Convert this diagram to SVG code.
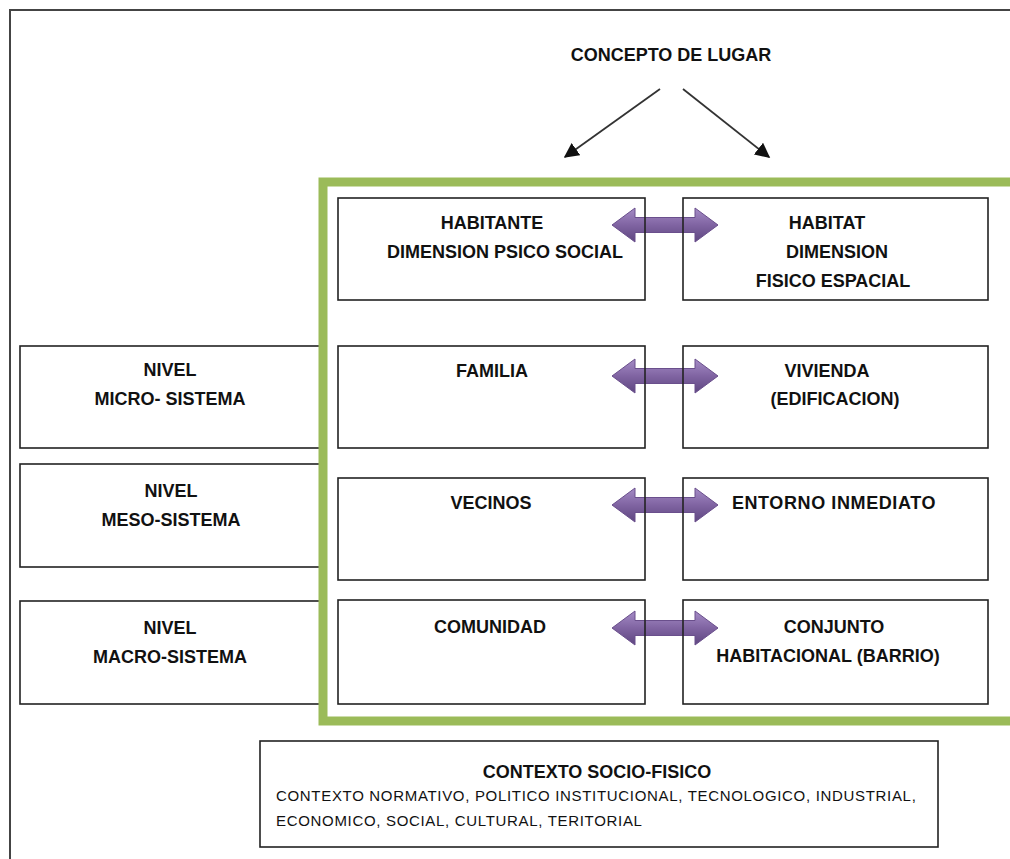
<svg xmlns="http://www.w3.org/2000/svg" width="1010" height="859" viewBox="0 0 1010 859">
<defs>
<style>
.box{fill:none;stroke:#222;stroke-width:1.6}
.t{font-family:"Liberation Sans",Arial,sans-serif;font-weight:bold;font-size:18px;fill:#111;text-anchor:middle}
.s{font-family:"Liberation Sans",Arial,sans-serif;font-size:15px;fill:#111;letter-spacing:0.68px}
.dbl{fill:url(#pg);stroke:#6a4f8c;stroke-width:1}
.ln{stroke:#333;stroke-width:1.8;fill:none}
</style>
<linearGradient id="pg" x1="0" y1="0" x2="0" y2="1">
<stop offset="0" stop-color="#a58cc6"/>
<stop offset="0.5" stop-color="#8064a2"/>
<stop offset="1" stop-color="#5e4680"/>
</linearGradient>
<marker id="ah2" viewBox="0 0 10 10" refX="9" refY="5" markerWidth="15" markerHeight="15" orient="auto" markerUnits="userSpaceOnUse">
<path d="M0,0 L10,5 L0,10 z" fill="#111"/>
</marker>
<path id="darr" d="M0,0 L23,-17 L23,-7.5 L83,-7.5 L83,-17 L106,0 L83,17 L83,7.5 L23,7.5 L23,17 z"/>
</defs>
<rect x="10" y="10" width="1020" height="870" fill="#fff" stroke="#444" stroke-width="2"/>

<g id="title"><text class="t" x="671" y="61">CONCEPTO DE LUGAR</text></g>

<g id="connectors">
<line class="ln" x1="660" y1="89" x2="565" y2="157" marker-end="url(#ah2)"/>
<line class="ln" x1="683" y1="89" x2="769" y2="157" marker-end="url(#ah2)"/>
<use href="#darr" class="dbl" x="612" y="225"/>
<use href="#darr" class="dbl" x="612" y="376"/>
<use href="#darr" class="dbl" x="612" y="505"/>
<use href="#darr" class="dbl" x="612" y="628"/>
</g>

<g id="nivel-micro"><rect class="box" x="20" y="346" width="304" height="102"/>
<text class="t" x="170" y="376">NIVEL</text><text class="t" x="170" y="405">MICRO- SISTEMA</text></g>
<g id="nivel-meso"><rect class="box" x="20" y="464" width="304" height="103"/>
<text class="t" x="171" y="497">NIVEL</text><text class="t" x="171" y="526">MESO-SISTEMA</text></g>
<g id="nivel-macro"><rect class="box" x="20" y="601" width="304" height="103"/>
<text class="t" x="170" y="634">NIVEL</text><text class="t" x="170" y="663">MACRO-SISTEMA</text></g>

<g id="marco"><rect x="323" y="182" width="720" height="539" fill="none" stroke="#9bbb59" stroke-width="9"/></g>

<g id="habitante"><rect class="box" x="338" y="198" width="307" height="102"/>
<text class="t" x="492" y="229">HABITANTE</text><text class="t" x="505" y="258">DIMENSION PSICO SOCIAL</text></g>
<g id="habitat"><rect class="box" x="683" y="198" width="305" height="102"/>
<text class="t" x="827" y="229">HABITAT</text><text class="t" x="837" y="258">DIMENSION</text><text class="t" x="833" y="287">FISICO ESPACIAL</text></g>

<g id="familia"><rect class="box" x="338" y="346" width="307" height="102"/>
<text class="t" x="492" y="377">FAMILIA</text></g>
<g id="vivienda"><rect class="box" x="683" y="346" width="305" height="102"/>
<text class="t" x="827" y="377">VIVIENDA</text><text class="t" x="835" y="405">(EDIFICACION)</text></g>

<g id="vecinos"><rect class="box" x="338" y="478" width="307" height="102"/>
<text class="t" x="491" y="509">VECINOS</text></g>
<g id="entorno"><rect class="box" x="683" y="478" width="305" height="102"/>
<text class="t" x="834" y="509" style="letter-spacing:0.6px">ENTORNO INMEDIATO</text></g>

<g id="comunidad"><rect class="box" x="338" y="600" width="307" height="104"/>
<text class="t" x="490" y="633">COMUNIDAD</text></g>
<g id="conjunto"><rect class="box" x="683" y="600" width="305" height="104"/>
<text class="t" x="834" y="633">CONJUNTO</text><text class="t" x="828" y="662">HABITACIONAL (BARRIO)</text></g>

<g id="contexto"><rect class="box" x="260" y="741" width="678" height="106"/>
<text class="t" x="597" y="778">CONTEXTO SOCIO-FISICO</text>
<text class="s" x="276" y="801">CONTEXTO NORMATIVO, POLITICO INSTITUCIONAL, TECNOLOGICO, INDUSTRIAL,</text>
<text class="s" x="276" y="826">ECONOMICO, SOCIAL, CULTURAL, TERITORIAL</text></g>
</svg>
